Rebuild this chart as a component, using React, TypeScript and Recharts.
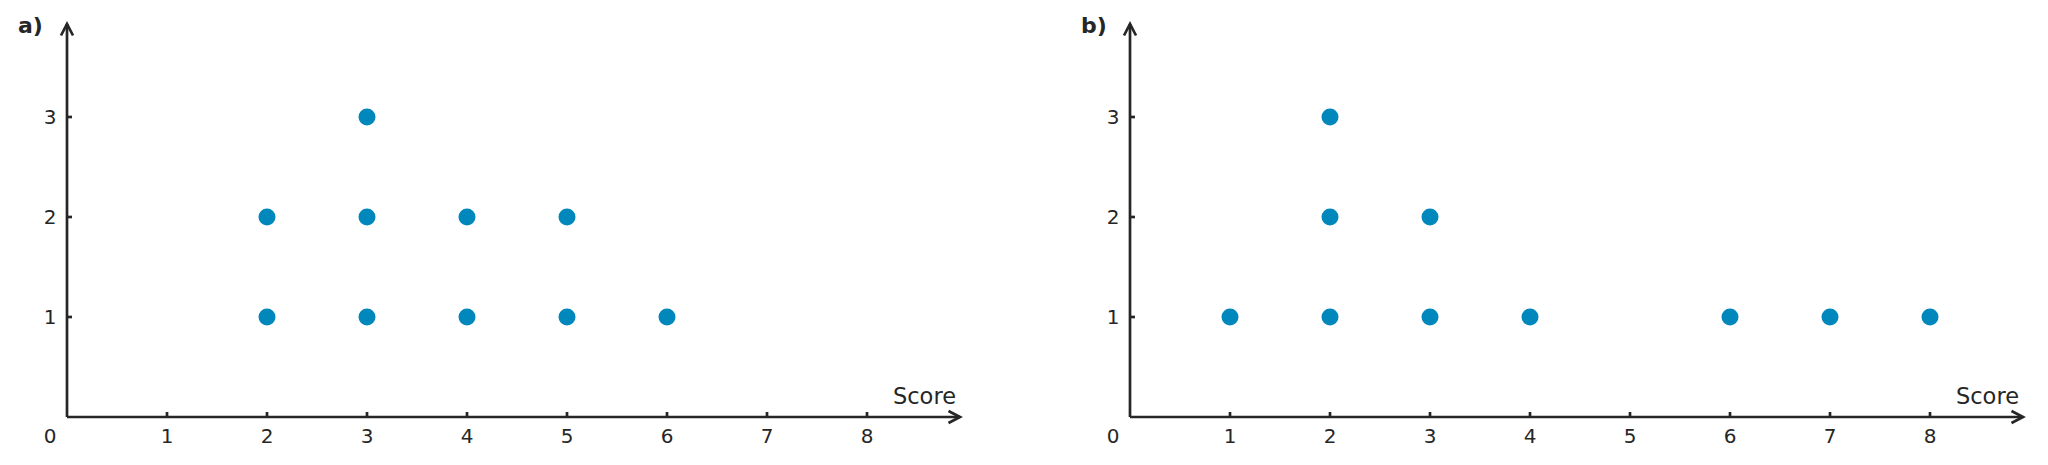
import React from "react";
import { ScatterChart, Scatter, XAxis, YAxis } from "recharts";

// raw scores, one entry per observation
const scoresA = [2, 2, 3, 3, 3, 4, 4, 5, 5, 6];
const scoresB = [1, 2, 2, 2, 3, 3, 4, 6, 7, 8];

const xTicks = [0, 1, 2, 3, 4, 5, 6, 7, 8];
const yTicks = [1, 2, 3];

const INK = "#262626";
const DOT = "#0087BB";
const FONT = "'DejaVu Sans', sans-serif";

// stack repeated scores into columns of dots
function toDots(scores: number[]) {
  const seen: Record<number, number> = {};
  return scores.map((s) => {
    seen[s] = (seen[s] || 0) + 1;
    return { score: s, count: seen[s] };
  });
}

function XTick(props: any) {
  const { x, y, payload } = props;
  if (payload.value === 0) {
    return (
      <text x={x - 17} y={y + 26} textAnchor="middle" fontSize={20} fill={INK} fontFamily={FONT}>
        0
      </text>
    );
  }
  return (
    <g>
      <line x1={x} x2={x} y1={y} y2={y - 5} stroke={INK} strokeWidth={2.7} />
      <text x={x} y={y + 26} textAnchor="middle" fontSize={20} fill={INK} fontFamily={FONT}>
        {payload.value}
      </text>
    </g>
  );
}

function YTick(props: any) {
  const { x, y, payload } = props;
  return (
    <g>
      <line x1={x} x2={x + 5} y1={y} y2={y} stroke={INK} strokeWidth={2.7} />
      <text x={x - 17} y={y + 7} textAnchor="middle" fontSize={20} fill={INK} fontFamily={FONT}>
        {payload.value}
      </text>
    </g>
  );
}

function ScoreLabel(props: any) {
  const vb = props.viewBox || {};
  return (
    <text
      x={vb.x + vb.width - 4}
      y={vb.y - 13}
      textAnchor="end"
      fontSize={22.5}
      fill={INK}
      fontFamily={FONT}
    >
      Score
    </text>
  );
}

function DotPanel({ id, title, scores, width }: { id: string; title: string; scores: number[]; width: number }) {
  const data = toDots(scores);
  return (
    <ScatterChart
      width={width}
      height={465}
      margin={{ top: 24, right: width - 960, bottom: 47, left: 66 }}
    >
      <defs>
        <marker
          id={id}
          markerWidth={16}
          markerHeight={16}
          refX={13}
          refY={8}
          orient="auto-start-reverse"
          markerUnits="userSpaceOnUse"
        >
          <path d="M1.5,2 L13,8 L1.5,14" fill="none" stroke={INK} strokeWidth={2.7} />
        </marker>
      </defs>
      <text x={18} y={33} fontSize={22} fontWeight="bold" fill={INK} fontFamily={FONT}>
        {title}
      </text>
      <XAxis
        type="number"
        dataKey="score"
        domain={[0, 8.93]}
        ticks={xTicks}
        interval={0}
        height={1}
        tickSize={0}
        tickMargin={0}
        tickLine={false}
        tick={XTick}
        axisLine={{ stroke: INK, strokeWidth: 2.7, markerEnd: `url(#${id})` }}
        label={ScoreLabel}
      />
      <YAxis
        type="number"
        dataKey="count"
        domain={[0, 3.93]}
        ticks={yTicks}
        interval={0}
        width={1}
        tickSize={0}
        tickMargin={0}
        tickLine={false}
        tick={YTick}
        axisLine={{ stroke: INK, strokeWidth: 2.7, markerStart: `url(#${id})` }}
      />
      <Scatter
        data={data}
        fill={DOT}
        isAnimationActive={false}
        shape={(p: any) => <circle cx={p.cx} cy={p.cy} r={8.5} fill={DOT} />}
      />
    </ScatterChart>
  );
}

export default function App() {
  return (
    <div
      style={{
        position: "absolute",
        left: 0,
        top: 0,
        width: 2048,
        height: 465,
        overflow: "hidden",
        background: "#fff",
      }}
    >
      <div style={{ position: "absolute", left: 0, top: 0 }}>
        <DotPanel id="arrowA" title="a)" scores={scoresA} width={1000} />
      </div>
      <div style={{ position: "absolute", left: 1063, top: 0 }}>
        <DotPanel id="arrowB" title="b)" scores={scoresB} width={985} />
      </div>
    </div>
  );
}
